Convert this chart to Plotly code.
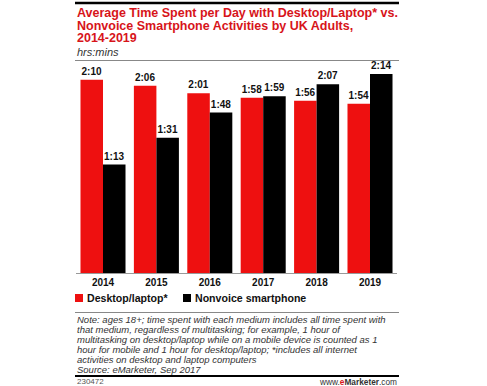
import plotly.graph_objects as go

years = ["2014", "2015", "2016", "2017", "2018", "2019"]
desktop_minutes = [130, 126, 121, 118, 116, 114]
smartphone_minutes = [73, 91, 108, 119, 127, 134]
series_names = ["Desktop/laptop*", "Nonvoice smartphone"]

W, H = 487, 386
RED = "#ee1010"
TITLE_RED = "#d7141a"
FONT = "Liberation Sans, Arial, sans-serif"


def px(x):
    return x / W


def py(y):
    return 1 - y / H


def hm(v):
    return f"{v // 60}:{v % 60:02d}"


fig = go.Figure()
for name, vals, col in [(series_names[0], desktop_minutes, RED),
                        (series_names[1], smartphone_minutes, "#000000")]:
    fig.add_trace(go.Bar(
        x=years, y=vals, name=name, marker=dict(color=col, line=dict(width=0)),
        text=[hm(v) for v in vals], textposition="outside",
        textfont=dict(family=FONT, size=10, color="#111", weight="bold"),
        cliponaxis=False, showlegend=False, hoverinfo="skip",
    ))

fig.update_layout(
    width=W, height=H, margin=dict(l=0, r=0, t=0, b=0),
    paper_bgcolor="white", plot_bgcolor="white",
    barmode="group", bargap=0.157, bargroupgap=0,
    xaxis=dict(domain=[px(76.3), px(396.7)], showline=True, linecolor="#999",
               linewidth=1, ticks="", fixedrange=True,
               tickfont=dict(family=FONT, size=10, color="#111", weight="bold")),
    yaxis=dict(domain=[py(273), py(65)], range=[0, 140], visible=False, fixedrange=True),
    font=dict(family=FONT),
)

# rules
fig.add_shape(type="line", xref="paper", yref="paper", x0=px(75), x1=px(399), y0=py(3), y1=py(3),
              line=dict(color="#000", width=2.5))
fig.add_shape(type="line", xref="paper", yref="paper", x0=px(75), x1=px(399), y0=py(60.5), y1=py(60.5),
              line=dict(color="#888", width=1))
fig.add_shape(type="line", xref="paper", yref="paper", x0=px(75), x1=px(399), y0=py(312.5), y1=py(312.5),
              line=dict(color="#888", width=1))
fig.add_shape(type="line", xref="paper", yref="paper", x0=px(75), x1=px(399), y0=py(376), y1=py(376),
              line=dict(color="#000", width=2))

# title
title_lines = ["Average Time Spent per Day with Desktop/Laptop* vs.",
               "Nonvoice Smartphone Activities by UK Adults,",
               "2014-2019"]
for i, t in enumerate(title_lines):
    fig.add_annotation(xref="paper", yref="paper", x=px(75), y=py(13 + 12.6 * i), text=t,
                       showarrow=False, xanchor="left", yanchor="middle",
                       font=dict(family=FONT, size=12.5, color=TITLE_RED, weight="bold"))
fig.add_annotation(xref="paper", yref="paper", x=px(75), y=py(52), text="<i>hrs:mins</i>",
                   showarrow=False, xanchor="left", yanchor="middle",
                   font=dict(family=FONT, size=11, color="#333"))

# legend
for x0, col, name in [(75, RED, series_names[0]), (183, "#000", series_names[1])]:
    fig.add_shape(type="rect", xref="paper", yref="paper", x0=px(x0), x1=px(x0 + 8),
                  y0=py(302), y1=py(294), fillcolor=col, line=dict(width=0))
    fig.add_annotation(xref="paper", yref="paper", x=px(x0 + 10), y=py(298), text=name,
                       showarrow=False, xanchor="left", yanchor="middle",
                       font=dict(family=FONT, size=10.6, color="#111", weight="bold"))

# notes
note_lines = [
    "Note: ages 18+; time spent with each medium includes all time spent with",
    "that medium, regardless of multitasking; for example, 1 hour of",
    "multitasking on desktop/laptop while on a mobile device is counted as 1",
    "hour for mobile and 1 hour for desktop/laptop; *includes all internet",
    "activities on desktop and laptop computers",
    "Source: eMarketer, Sep 2017",
]
for i, t in enumerate(note_lines):
    fig.add_annotation(xref="paper", yref="paper", x=px(75), y=py(319.5 + 10 * i), text=f"<i>{t}</i>",
                       showarrow=False, xanchor="left", yanchor="middle",
                       font=dict(family=FONT, size=9.5, color="#333"))

fig.add_annotation(xref="paper", yref="paper", x=px(75), y=py(381.5), text="230472",
                   showarrow=False, xanchor="left", yanchor="middle",
                   font=dict(family=FONT, size=8, color="#555"))
fig.add_annotation(xref="paper", yref="paper", x=px(399), y=py(381.5),
                   text="www.<span style='color:#d7141a'><b>e</b></span><b>Marketer</b>.com",
                   showarrow=False, xanchor="right", yanchor="middle",
                   font=dict(family=FONT, size=8.3, color="#333"))

fig.write_html("out.html", config={"displayModeBar": False, "staticPlot": True},
               post_script="document.body.style.margin='0';document.body.style.overflow='hidden';")
